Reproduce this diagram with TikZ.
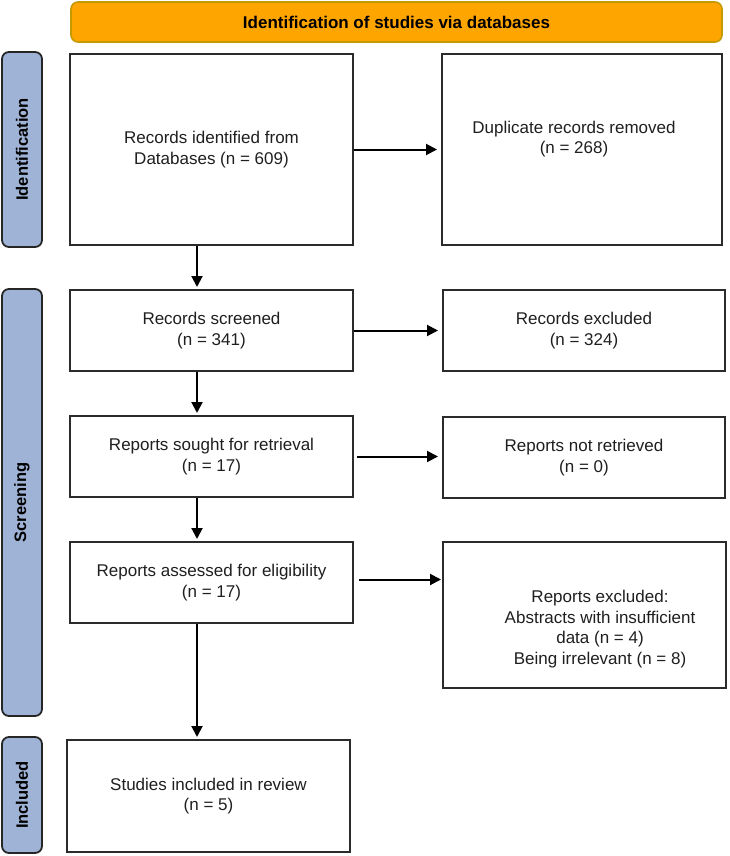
\documentclass[tikz,border=0pt]{standalone}
\usepackage{fontspec}
\setmainfont{Liberation Sans}
\usetikzlibrary{arrows.meta}
\definecolor{bannerfill}{HTML}{FFA500}
\definecolor{bannerdraw}{HTML}{C49A00}
\definecolor{barfill}{HTML}{9FB3D7}
\definecolor{boxline}{HTML}{2B2B2B}
\definecolor{txt}{HTML}{1F1F1F}
\begin{document}
\begin{tikzpicture}[x=1pt,y=-1pt,
  box/.style={draw=boxline, line width=2pt, fill=white, rectangle, inner sep=0pt,
    align=center, font=\fontsize{17}{20.5}\selectfont, text=txt},
  plain/.style={align=center, inner sep=0pt, font=\fontsize{17}{20.5}\selectfont, text=txt},
  sidebar/.style={draw=black!85, line width=1.8pt, fill=barfill, rounded corners=7pt,
    rotate=90, inner sep=0pt, font=\bfseries\fontsize{16.5}{20}\selectfont},
  banner/.style={draw=bannerdraw, line width=1.6pt, fill=bannerfill, rounded corners=7pt,
    inner sep=0pt, font=\bfseries\fontsize{17}{20}\selectfont},
  arr/.style={draw=black, line width=2pt, -{Triangle[length=11pt,width=11pt]}}
]
\useasboundingbox (0,0) rectangle (729,856);

% banner
\node[banner, minimum width=651pt, minimum height=40pt] (ban) at (396.5,22) {Identification of studies via databases};

% side bars
\node[sidebar, minimum width=195pt, minimum height=40pt] (sid) at (22,149.5) {Identification};
\node[sidebar, minimum width=427pt, minimum height=40pt] (sscr) at (22,502.5) {Screening};
\node[sidebar, minimum width=116pt, minimum height=40pt] (sinc) at (22,795) {Included};

% boxes
\node[box, minimum width=283pt, minimum height=191pt] (ident) at (211.5,149.5) {Records identified from\\Databases (n = 609)};
\node[box, minimum width=280pt, minimum height=191pt] (dup) at (582,149.5) {};
\node[plain] (duptxt) at (574,139) {Duplicate records removed\\(n = 268)};

\node[box, minimum width=283pt, minimum height=81pt] (screened) at (211.5,330.5) {Records screened\\(n = 341)};
\node[box, minimum width=282pt, minimum height=81pt] (excl) at (584,330.5) {Records excluded\\(n = 324)};

\node[box, minimum width=283pt, minimum height=81pt] (sought) at (211.5,456.5) {Reports sought for retrieval\\(n = 17)};
\node[box, minimum width=282pt, minimum height=81pt] (notret) at (584,457.5) {Reports not retrieved\\(n = 0)};

\node[box, minimum width=283pt, minimum height=81pt] (assessed) at (211.5,582.5) {Reports assessed for eligibility\\(n = 17)};
\node[box, minimum width=283pt, minimum height=146pt] (repexcl) at (584.5,615) {};
\node[plain] (repexcltxt) at (600,629) {Reports excluded:\\Abstracts with insufficient\\data (n = 4)\\Being irrelevant (n = 8)};

\node[box, minimum width=283pt, minimum height=112pt] (studies) at (208.5,796) {Studies included in review\\(n = 5)};

% connectors
\coordinate (vx) at (197,0);
\draw[arr, shorten >=4pt] (ident.east) -- (ident.east -| dup.west);
\draw[arr, shorten >=4pt] (screened.east) -- (screened.east -| excl.west);
\draw[arr, shorten <=3pt, shorten >=4pt] (sought.east) -- (sought.east -| notret.west);
\draw[arr, shorten <=5pt, shorten >=1pt] ([yshift=3pt]assessed.east) -- ([yshift=3pt]assessed.east -| repexcl.west);

\draw[arr, shorten >=2pt] (ident.south -| vx) -- (screened.north -| vx);
\draw[arr, shorten >=2pt] (screened.south -| vx) -- (sought.north -| vx);
\draw[arr, shorten >=2pt] (sought.south -| vx) -- (assessed.north -| vx);
\draw[arr, shorten >=2pt] (assessed.south -| vx) -- (studies.north -| vx);
\end{tikzpicture}
\end{document}
